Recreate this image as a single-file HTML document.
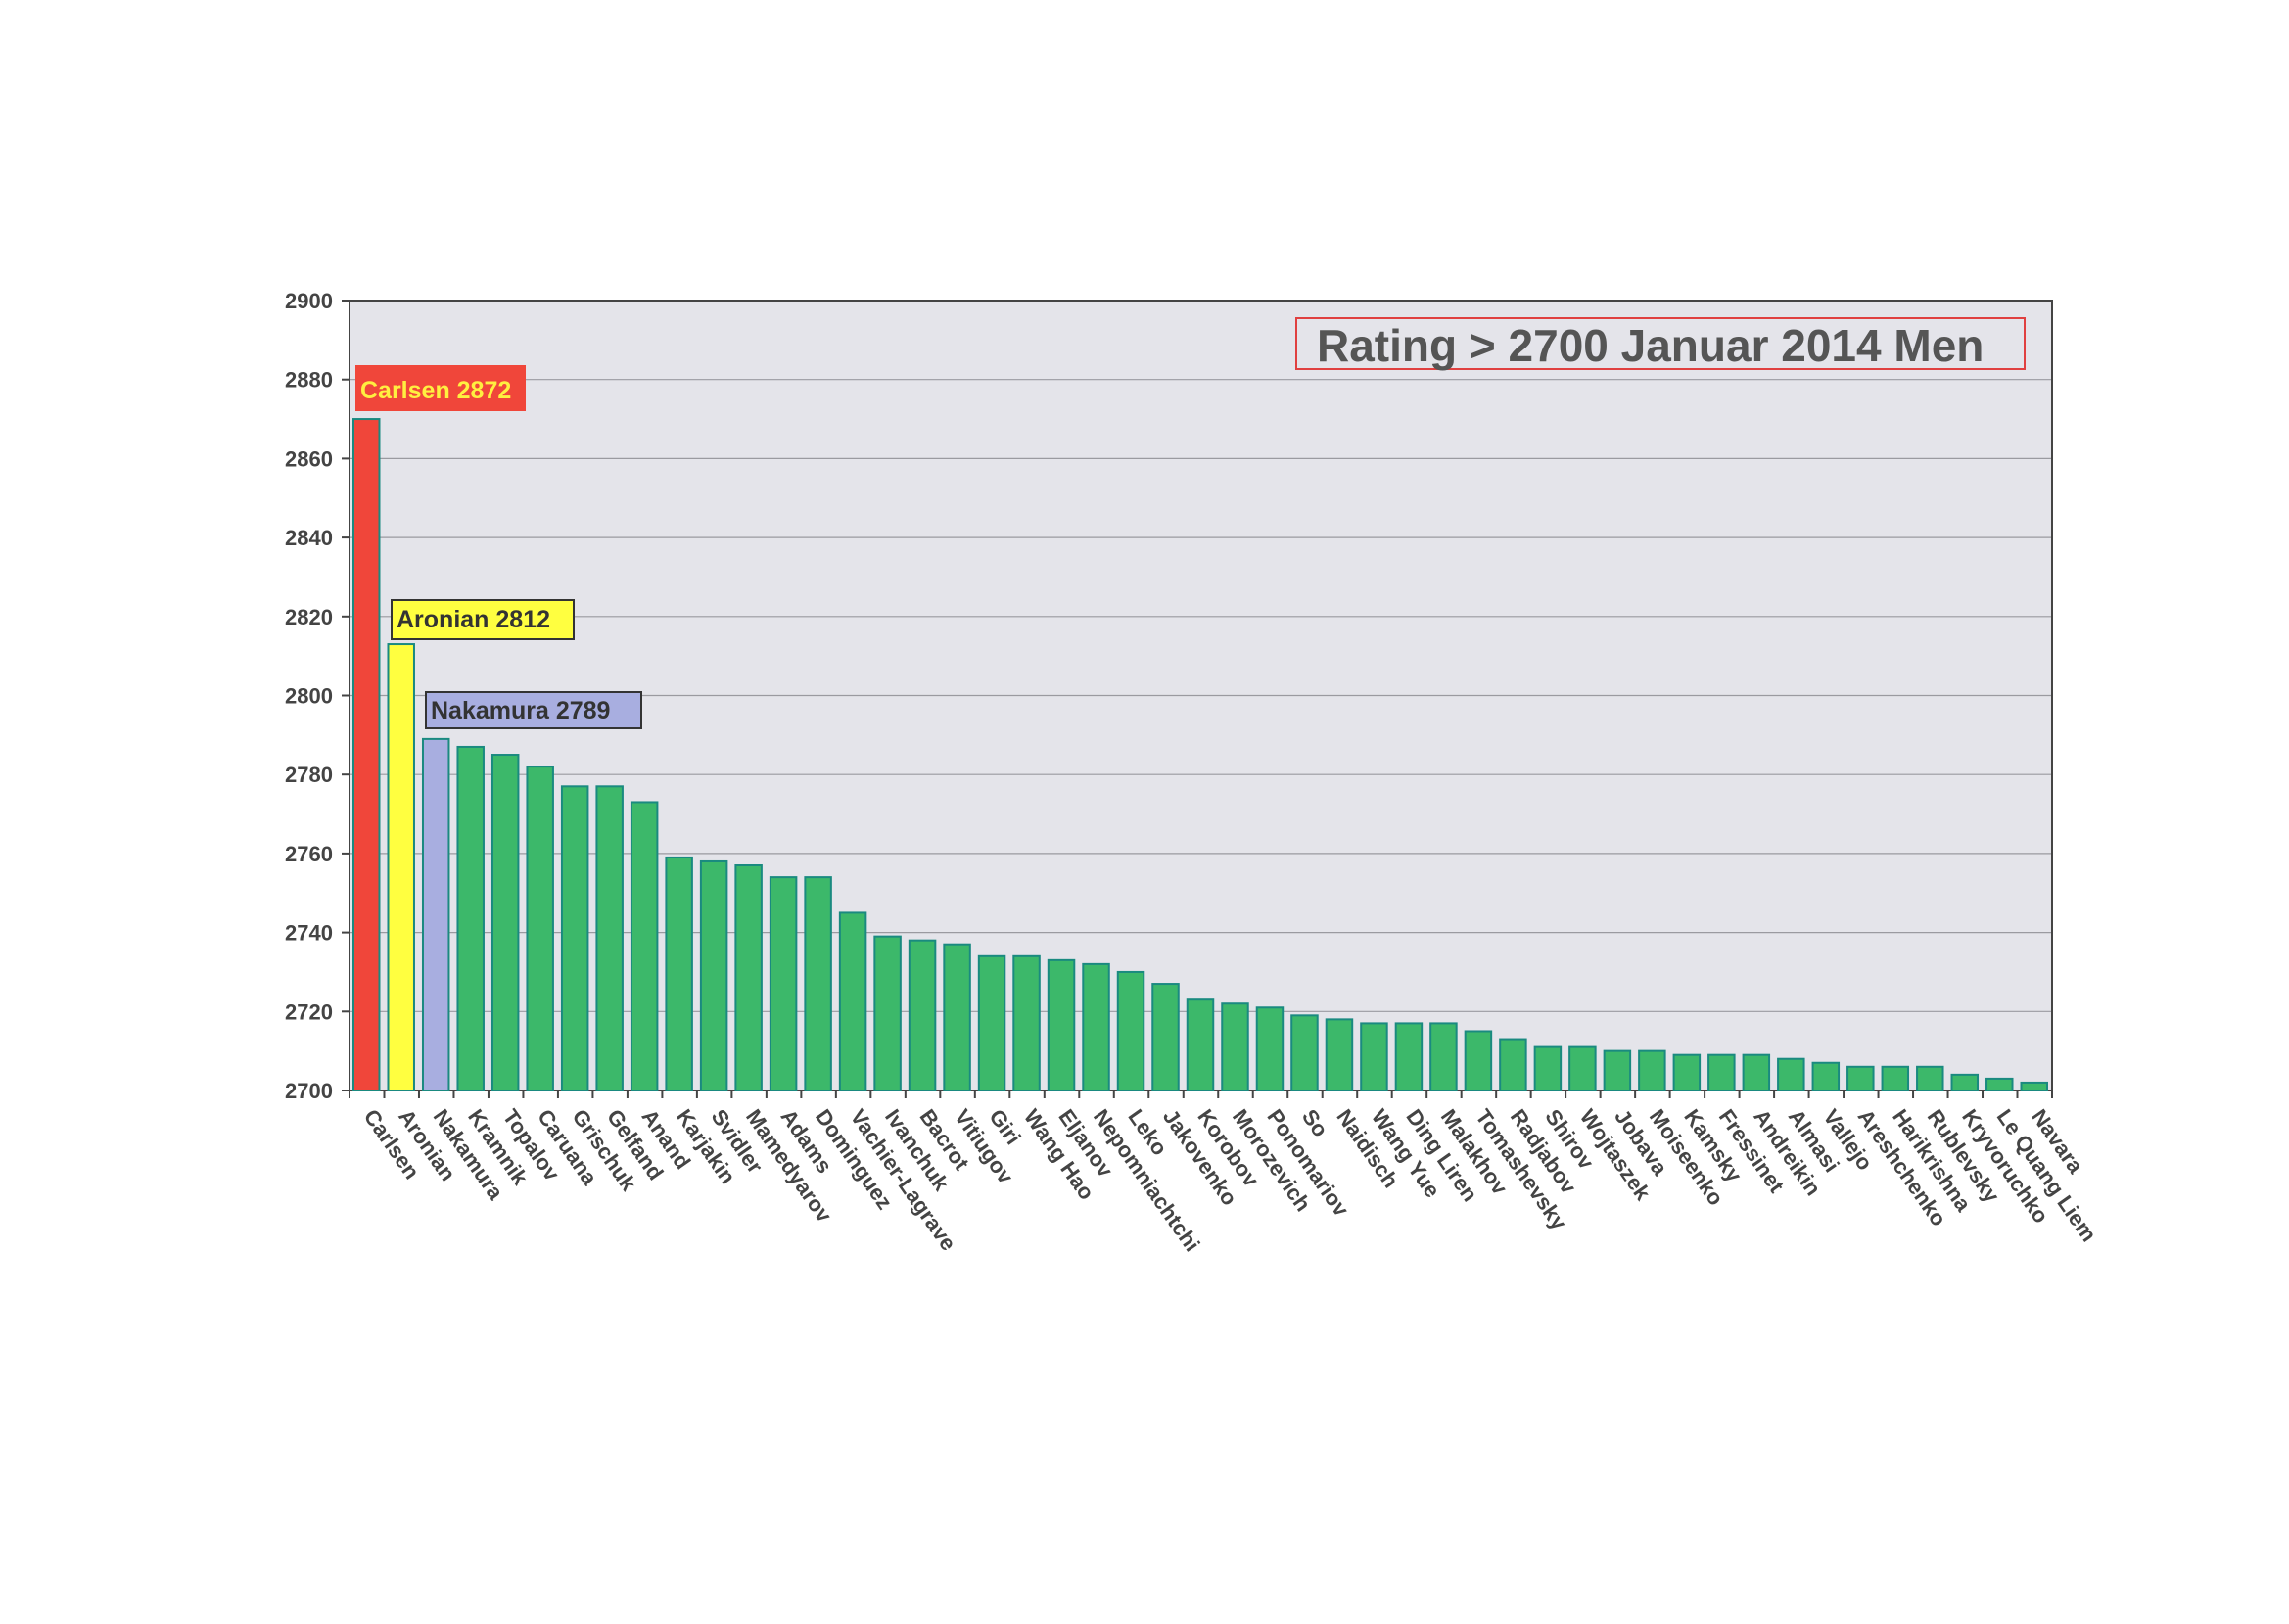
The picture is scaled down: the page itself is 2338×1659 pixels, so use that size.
<!DOCTYPE html>
<html><head><meta charset="utf-8"><style>
html,body{margin:0;padding:0;background:#fff;}
svg text{font-family:"Liberation Sans",Arial,sans-serif;}
</style></head><body>
<svg width="2338" height="1654" viewBox="0 0 2338 1654" xmlns="http://www.w3.org/2000/svg">
<rect x="0" y="0" width="2338" height="1654" fill="#fff"/>
<rect x="357" y="307" width="1739" height="807" fill="#e4e4ea"/>
<g id="grid" stroke="#9a9aa0" stroke-width="1.2"></g>
<rect x="357" y="307" width="1739" height="807" fill="none" stroke="#444" stroke-width="2"/>
<g id="bars"></g>
<g id="ylab" font-size="22" font-weight="bold" fill="#444" text-anchor="end"></g>
<g id="xlab" font-size="22" font-weight="bold" fill="#444"></g>
<rect x="1324" y="325" width="744" height="52" fill="none" stroke="#e04040" stroke-width="2"/>
<text x="1345" y="369" font-size="46" font-weight="bold" fill="#555">Rating &gt; 2700 Januar 2014 Men</text>
<rect x="363" y="373" width="174" height="47" fill="#f0463a"/>
<text x="368" y="407" font-size="25" font-weight="bold" fill="#ffef40">Carlsen 2872</text>
<rect x="400" y="613" width="186" height="40" fill="#ffff40" stroke="#333" stroke-width="2"/>
<text x="405" y="641" font-size="25" font-weight="bold" fill="#333">Aronian 2812</text>
<rect x="435" y="707" width="220" height="37" fill="#a8aee0" stroke="#333" stroke-width="2"/>
<text x="440" y="734" font-size="25" font-weight="bold" fill="#333">Nakamura 2789</text>
</svg>
<script>
const d=[["Carlsen",2870],["Aronian",2813],["Nakamura",2789],["Kramnik",2787],["Topalov",2785],["Caruana",2782],["Grischuk",2777],["Gelfand",2777],["Anand",2773],["Karjakin",2759],["Svidler",2758],["Mamedyarov",2757],["Adams",2754],["Dominguez",2754],["Vachier-Lagrave",2745],["Ivanchuk",2739],["Bacrot",2738],["Vitiugov",2737],["Giri",2734],["Wang Hao",2734],["Eljanov",2733],["Nepomniachtchi",2732],["Leko",2730],["Jakovenko",2727],["Korobov",2723],["Morozevich",2722],["Ponomariov",2721],["So",2719],["Naidisch",2718],["Wang Yue",2717],["Ding Liren",2717],["Malakhov",2717],["Tomashevsky",2715],["Radjabov",2713],["Shirov",2711],["Wojtaszek",2711],["Jobava",2710],["Moiseenko",2710],["Kamsky",2709],["Fressinet",2709],["Andreikin",2709],["Almasi",2708],["Vallejo",2707],["Areshchenko",2706],["Harikrishna",2706],["Rublevsky",2706],["Kryvoruchko",2704],["Le Quang Liem",2703],["Navara",2702]];
const NS="http://www.w3.org/2000/svg";
function el(t,a,p,txt){const e=document.createElementNS(NS,t);for(const k in a)e.setAttribute(k,a[k]);if(txt)e.textContent=txt;document.getElementById(p).appendChild(e);}
const y=v=>1114-(v-2700)*4.035,L=357,S=1739/49;
for(let v=2700;v<=2900;v+=20){const yy=y(v);if(v>2700&&v<2900)el("line",{x1:L,x2:2096,y1:yy,y2:yy},"grid");el("line",{x1:L-8,x2:L,y1:yy,y2:yy,stroke:"#444","stroke-width":2},"grid");el("text",{x:340,y:yy+8},"ylab",String(v));}
d.forEach((p,i)=>{const x=L+i*S+4;const c=i==0?"#f0463a":i==1?"#ffff40":i==2?"#a8aee0":"#3cb86a";
el("rect",{x:x,y:y(p[1]),width:S-9,height:1114-y(p[1]),fill:c,stroke:"#1a8a80","stroke-width":2},"bars");
el("line",{x1:L+i*S,x2:L+i*S,y1:1114,y2:1122,stroke:"#444","stroke-width":2},"bars");
const cx=L+i*S+S/2-4;el("text",{x:0,y:0,transform:`translate(${cx},1140) rotate(55)`},"xlab",p[0]);});
el("line",{x1:2096,x2:2096,y1:1114,y2:1122,stroke:"#444","stroke-width":2},"bars");
</script>
</body></html>
